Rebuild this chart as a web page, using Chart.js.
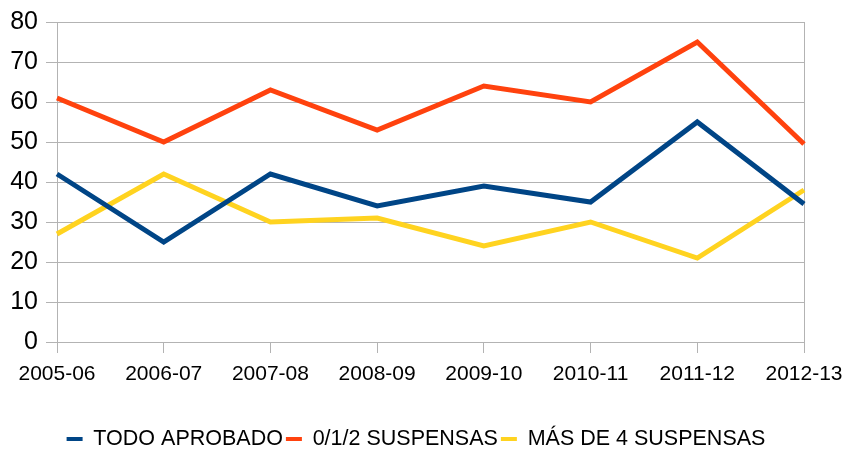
<!DOCTYPE html>
<html>
<head>
<meta charset="utf-8">
<script src="https://cdn.jsdelivr.net/npm/chart.js@4/dist/chart.umd.min.js"></script>
<style>
  html, body { margin: 0; padding: 0; background: #fff; }
  #wrap { width: 845px; height: 451px; }
</style>
</head>
<body>
<div id="wrap"><canvas id="chart" width="845" height="451"></canvas></div>
<script>
// Data
var cursos = ['2005-06', '2006-07', '2007-08', '2008-09', '2009-10', '2010-11', '2011-12', '2012-13'];
var todoAprobado = [42, 25, 42, 34, 39, 35, 55, 34.5];
var suspensas012 = [61, 50, 63, 53, 64, 60, 75, 49.5];
var masDe4 = [27, 42, 30, 31, 24, 30, 21, 38];
var yTicks = [0, 10, 20, 30, 40, 50, 60, 70, 80];

var gridColor = '#b3b3b3';
var fontFamily = '"Liberation Sans", Arial, sans-serif';

function serie(label, data, color) {
    return {
        label: label,
        data: data,
        borderColor: color,
        backgroundColor: color,
        borderWidth: 5,
        pointRadius: 0,
        tension: 0,
        fill: false
    };
}

// legend in the original is centred a bit right of the plot centre
var legendShift = {
    id: 'legendShift',
    afterLayout: function (chart) {
        if (chart.legend) chart.legend.left = 28;
    }
};

var ctx = document.getElementById('chart').getContext('2d');
new Chart(ctx, {
    type: 'line',
    data: {
        labels: cursos,
        datasets: [
            serie('TODO APROBADO', todoAprobado, '#004586'),
            serie('0/1/2 SUSPENSAS', suspensas012, '#ff420e'),
            serie('MÁS DE 4 SUSPENSAS', masDe4, '#ffd320')
        ]
    },
    plugins: [legendShift],
    options: {
        responsive: false,
        animation: false,
        layout: { padding: { top: 22, right: 41, bottom: 1.5, left: 0 } },
        plugins: {
            tooltip: { enabled: false },
            legend: {
                position: 'bottom',
                maxHeight: 24.25,
                labels: {
                    color: '#000',
                    font: { family: fontFamily, size: 21.5 },
                    boxWidth: 16,
                    boxHeight: 4,
                    padding: 3,
                    generateLabels: function (chart) {
                        var items = Chart.defaults.plugins.legend.labels.generateLabels(chart);
                        items.forEach(function (it) { it.lineWidth = 0; });
                        return items;
                    }
                }
            }
        },
        scales: {
            x: {
                offset: false,
                grid: {
                    color: function (c) { return c.index === cursos.length - 1 ? gridColor : 'rgba(0,0,0,0)'; },
                    tickColor: gridColor,
                    tickLength: 11,
                    lineWidth: 1
                },
                border: { color: gridColor, width: 1 },
                ticks: {
                    color: '#000',
                    font: { family: fontFamily, size: 21 },
                    padding: 9,
                    maxRotation: 0,
                    autoSkip: false
                },
                afterFit: function (s) {
                    s.height = 83.25;
                    s.paddingLeft = 0;
                    s.paddingRight = 0;
                }
            },
            y: {
                min: 0,
                max: 80,
                afterBuildTicks: function (s) { s.ticks = yTicks.map(function (v) { return { value: v }; }); },
                grid: {
                    color: gridColor,
                    tickColor: gridColor,
                    tickLength: 11,
                    lineWidth: 1
                },
                border: { color: gridColor, width: 1 },
                ticks: {
                    color: '#000',
                    font: { family: fontFamily, size: 25 },
                    padding: 8
                },
                afterFit: function (s) {
                    s.width = 57;
                    s.paddingTop = 0;
                    s.paddingBottom = 0;
                }
            }
        }
    }
});
</script>
</body>
</html>
